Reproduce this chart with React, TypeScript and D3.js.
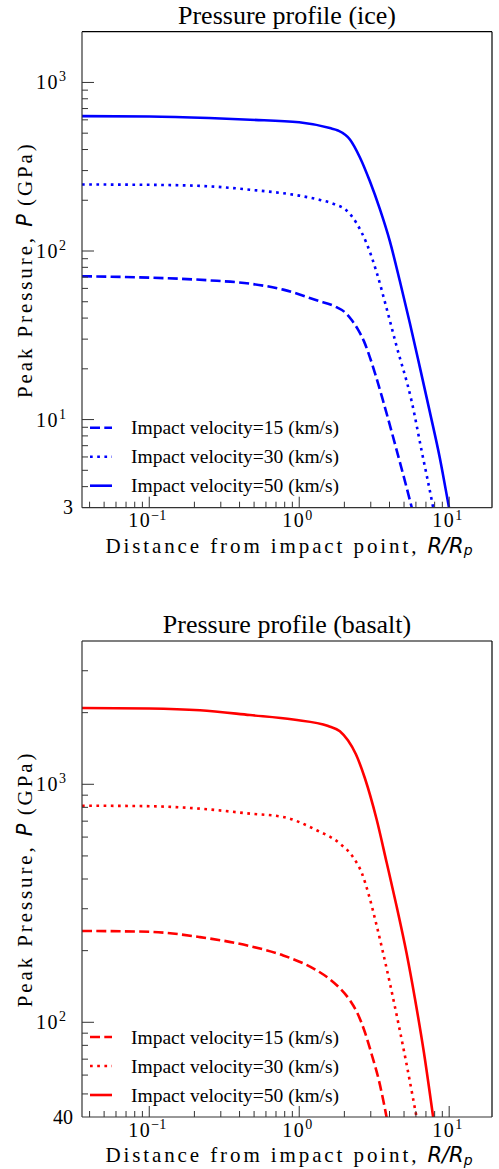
import React from 'react';
import * as d3 from 'd3';

const W = 499;
const H = 1169;

// Shared x range (R/Rp)
const xDomain: [number, number] = [0.0356, 19.3];
const xLabelExps = [-1, 0, 1];

// Ice panel data
const iceV15X = [0.0356, 0.1, 0.25, 0.469, 0.782, 1.306, 1.775, 2.017, 2.245, 2.462, 2.7, 2.96, 3.246, 3.614, 4.481, 5.615, 5.817];
const iceV15Y = [70.8, 69.5, 67, 64, 59, 51, 46.4, 43.3, 38.8, 34.3, 29.2, 23.4, 18.1, 13.03, 6.5, 3.03, 2.67];
const iceV30X = [0.0356, 0.1, 0.25, 0.469, 1.0, 1.374, 1.73, 2.07, 2.414, 2.814, 3.281, 3.825, 4.461, 5.598, 6.577, 7.823, 8.15];
const iceV30Y = [248, 247, 242, 231, 213, 201, 189, 174, 146, 111, 74.8, 45.7, 27.2, 13.03, 6.41, 3.0, 2.47];
const iceV50X = [0.0356, 0.1, 0.25, 0.469, 1.0, 1.6, 1.811, 2.178, 2.54, 2.96, 3.451, 4.024, 4.692, 5.47, 6.378, 7.435, 8.67, 9.954, 10.42];
const iceV50Y = [631, 628, 615, 601, 580, 536, 519, 459, 359, 259, 177, 114, 66.1, 37.3, 20.4, 11.07, 5.9, 3.03, 2.43];

// Basalt panel data
const basV15X = [0.0356, 0.1, 0.218, 0.469, 0.782, 1.306, 1.602, 1.867, 2.178, 2.462, 2.742, 3.053, 3.399, 3.825, 3.902];
const basV15Y = [242, 240, 228, 209, 191, 165.4, 151.6, 139, 123.7, 108.1, 90.8, 72.7, 57, 39.9, 37.3];
const basV30X = [0.0356, 0.1, 0.218, 0.469, 0.782, 1.306, 1.867, 2.291, 2.618, 2.915, 3.281, 3.631, 4.024, 4.481, 5.2, 6.063, 6.281];
const basV30Y = [813, 809, 790, 753, 729, 641, 563.6, 493.5, 422.7, 341.7, 255.6, 194.9, 145.9, 106, 66.6, 39.9, 35.5];
const basV50X = [0.0356, 0.1, 0.218, 0.469, 0.912, 1.561, 1.867, 2.112, 2.388, 2.742, 3.281, 3.825, 4.461, 5.2, 5.905, 6.781, 7.823, 8.03];
const basV50Y = [2092, 2082, 2046, 1954, 1871, 1758, 1670, 1530, 1337, 1060, 712.7, 470.1, 307.2, 194.9, 126.2, 74.8, 39.9, 35.5];

const legendLabels = ['Impact velocity=15 (km/s)', 'Impact velocity=30 (km/s)', 'Impact velocity=50 (km/s)'];

const SERIF = "'Liberation Serif', 'Times New Roman', serif";
const SANS = "'DejaVu Sans', sans-serif";

const DASHES = ['10,4.3', '2.7,4.5', ''];

type PanelProps = {
  top: number;
  bottom: number;
  yDomain: [number, number];
  title: string;
  titleY: number;
  color: string;
  series: { xs: number[]; ys: number[] }[];
  minLabel: string;
  yLabelExps: number[];
  id: string;
};

function Panel({ top, bottom, yDomain, title, titleY, color, series, minLabel, yLabelExps, id }: PanelProps) {
  const left = 82;
  const right = 492;
  const x = d3.scaleLog().domain(xDomain).range([left, right]);
  const y = d3.scaleLog().domain(yDomain).range([bottom, top]);
  const line = d3
    .line<[number, number]>()
    .x((d) => x(d[0]))
    .y((d) => y(d[1]))
    .curve(d3.curveMonotoneX);

  const ticksFor = (dom: [number, number]) => {
    const out: { v: number; major: boolean }[] = [];
    const e0 = Math.floor(Math.log10(dom[0]));
    const e1 = Math.ceil(Math.log10(dom[1]));
    for (let e = e0; e <= e1; e++) {
      for (let k = 1; k <= 9; k++) {
        const v = k * Math.pow(10, e);
        if (v > dom[0] * 1.0001 && v < dom[1] * 0.9999) out.push({ v, major: k === 1 });
      }
    }
    return out;
  };
  const xt = ticksFor(xDomain);
  const yt = ticksFor(yDomain);
  const cx = (left + right) / 2;
  const cy = (top + bottom) / 2;
  const tickColor = '#333';

  return (
    <g>
      <defs>
        <clipPath id={id}>
          <rect x={left} y={top} width={right - left} height={bottom - top} />
        </clipPath>
      </defs>
      <text x={cx} y={titleY} textAnchor="middle" fontFamily={SERIF} fontSize={26} fill="#000">
        {title}
      </text>
      {/* data lines */}
      <g clipPath={`url(#${id})`}>
        {series.map((s, i) => (
          <path
            key={i}
            d={line(s.xs.map((v, j) => [v, s.ys[j]] as [number, number])) || ''}
            fill="none"
            stroke={color}
            strokeWidth={2.6}
            strokeDasharray={DASHES[i] || undefined}
          />
        ))}
      </g>
      {/* frame */}
      <line x1={left} x2={right} y1={top} y2={top} stroke="#000" strokeWidth={1.2} />
      <line x1={right} x2={right} y1={top} y2={bottom} stroke="#000" strokeWidth={1.2} />
      <line x1={left} x2={left} y1={top} y2={bottom} stroke={tickColor} strokeWidth={1.2} />
      <line x1={left} x2={right} y1={bottom} y2={bottom} stroke={tickColor} strokeWidth={1.2} />
      {/* x ticks */}
      {xt.map((t, i) => (
        <line
          key={'xt' + i}
          x1={x(t.v)}
          x2={x(t.v)}
          y1={bottom}
          y2={bottom - (t.major ? 11 : 6)}
          stroke={tickColor}
          strokeWidth={1}
        />
      ))}
      {/* y ticks */}
      {yt.map((t, i) => (
        <line
          key={'yt' + i}
          x1={left}
          x2={left + (t.major ? 12 : 6)}
          y1={y(t.v)}
          y2={y(t.v)}
          stroke={tickColor}
          strokeWidth={1}
        />
      ))}
      {/* x tick labels */}
      {xLabelExps.map((e) => (
        <text
          key={'xl' + e}
          x={x(Math.pow(10, e)) - 2}
          y={bottom + 19.5}
          textAnchor="middle"
          fontFamily={SERIF}
          fontSize={20}
          fill="#000"
        >
          <tspan letterSpacing={1.5}>10</tspan>
          <tspan dy={-7.5} fontSize={14}>
            {e < 0 ? '\u2212' + Math.abs(e) : String(e)}
          </tspan>
        </text>
      ))}
      {/* y tick labels */}
      {yLabelExps.map((e) => (
        <text
          key={'yl' + e}
          x={66}
          y={y(Math.pow(10, e)) + 7}
          textAnchor="end"
          fontFamily={SERIF}
          fontSize={20}
          fill="#000"
        >
          <tspan letterSpacing={1.5}>10</tspan>
          <tspan dy={-8} fontSize={14}>
            {String(e)}
          </tspan>
        </text>
      ))}
      <text x={73} y={bottom + 6.5} textAnchor="end" fontFamily={SERIF} fontSize={20} fill="#000">
        {minLabel}
      </text>
      {/* axis labels */}
      <text
        x={289}
        y={bottom + 45}
        textAnchor="middle"
        fontFamily={SERIF}
        fontSize={21}
        letterSpacing={2.9}
        fill="#000"
      >
        Distance from impact point,{' '}
        <tspan fontFamily={SANS} fontStyle="italic" letterSpacing={0}>
          R/R
        </tspan>
        <tspan fontFamily={SANS} fontStyle="italic" fontSize={14} dy={2.5} letterSpacing={0}>
          p
        </tspan>
      </text>
      <text
        transform={`translate(32,${cy}) rotate(-90)`}
        textAnchor="middle"
        fontFamily={SERIF}
        fontSize={21}
        letterSpacing={2.9}
        fill="#000"
      >
        Peak Pressure,{' '}
        <tspan fontFamily={SANS} fontStyle="italic" letterSpacing={0}>
          P
        </tspan>{' '}
        (GPa)
      </text>
      {/* legend */}
      {legendLabels.map((lab, i) => {
        const ly = bottom - 80 + i * 29;
        return (
          <g key={'lg' + i}>
            <line
              x1={90}
              x2={112}
              y1={ly}
              y2={ly}
              stroke={color}
              strokeWidth={2.6}
              strokeDasharray={DASHES[i] || undefined}
            />
            <text x={131} y={ly + 6.5} fontFamily={SERIF} fontSize={19.5} fill="#000">
              {lab}
            </text>
          </g>
        );
      })}
    </g>
  );
}

export default function App() {
  return (
    <svg
      width={W}
      height={H}
      viewBox={`0 0 ${W} ${H}`}
      style={{ position: 'absolute', left: 0, top: 0, background: '#fff' }}
    >
      <rect x={0} y={0} width={W} height={H} fill="#fff" />
      <Panel
        id="clipIce"
        top={31.7}
        bottom={507.7}
        yDomain={[3, 2000]}
        title="Pressure profile (ice)"
        titleY={24}
        color="#0000ff"
        minLabel="3"
        yLabelExps={[1, 2, 3]}
        series={[
          { xs: iceV15X, ys: iceV15Y },
          { xs: iceV30X, ys: iceV30Y },
          { xs: iceV50X, ys: iceV50Y },
        ]}
      />
      <Panel
        id="clipBasalt"
        top={641}
        bottom={1117}
        yDomain={[40, 4000]}
        title="Pressure profile (basalt)"
        titleY={633}
        color="#ff0000"
        minLabel="40"
        yLabelExps={[2, 3]}
        series={[
          { xs: basV15X, ys: basV15Y },
          { xs: basV30X, ys: basV30Y },
          { xs: basV50X, ys: basV50Y },
        ]}
      />
    </svg>
  );
}
